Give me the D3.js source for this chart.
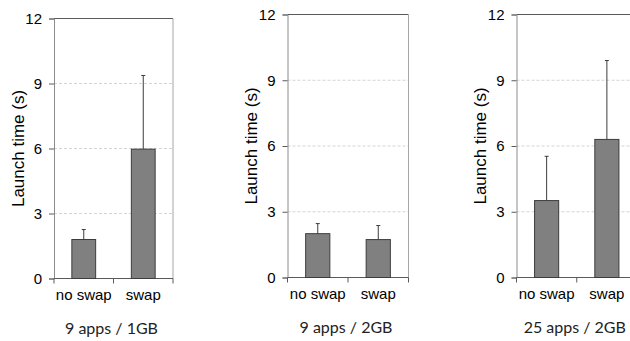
<!DOCTYPE html>
<html>
<head>
<meta charset="utf-8">
<script src="https://cdn.jsdelivr.net/npm/d3@7"></script>
<style>
  body { margin: 0; background: #fff; }
  svg { display: block; }
</style>
</head>
<body>
<div id="vis"></div>
<script>
// data
var categories = ["no swap", "swap"];
var panelTitles = ["9 apps / 1GB", "9 apps / 2GB", "25 apps / 2GB"];
var means = [[1.8, 5.97], [2.0, 1.73], [3.51, 6.3]];
var errTops = [[2.26, 9.37], [2.46, 2.37], [5.53, 9.9]];
var yTicks = [0, 3, 6, 9, 12];
var yLabel = "Launch time (s)";

const WIDTH = 630;
const HEIGHT = 341;
// plot boxes: left, right, top, bottom
const PANELS = [
    {x0: 54, x1: 173, y0: 18.5, y1: 278.5},
    {x0: 287.5, x1: 408.5, y0: 14.5, y1: 277.5},
    {x0: 516.5, x1: 637, y0: 14.5, y1: 277.5}
];

var svg = d3.select("#vis")
    .append("svg")
    .attr("width", WIDTH)
    .attr("height", HEIGHT);

function renderPanel(p, idx) {
    var g = svg.append("g");

    var x = d3.scaleBand()
        .domain(categories)
        .range([p.x0, p.x1])
        .padding(0);
    var y = d3.scaleLinear()
        .domain([0, 12])
        .range([p.y1, p.y0]);

    // dashed gridlines
    g.selectAll("line.grid")
        .data(yTicks.filter(function (d) { return d > 0 && d < 12; }))
        .enter()
        .append("line")
        .attr("x1", p.x0)
        .attr("x2", p.x1)
        .attr("y1", function (d) { return y(d); })
        .attr("y2", function (d) { return y(d); })
        .attr("stroke", "#d4d4d4")
        .attr("stroke-dasharray", "3,2");

    // top and right border
    g.append("line")
        .attr("x1", p.x0).attr("x2", p.x1)
        .attr("y1", p.y0).attr("y2", p.y0)
        .attr("stroke", "#5a5a5a");
    g.append("line")
        .attr("x1", p.x1).attr("x2", p.x1)
        .attr("y1", p.y0).attr("y2", p.y1)
        .attr("stroke", "#a6a6a6");

    // y axis
    var yAxis = g.append("g")
        .attr("transform", "translate(" + p.x0 + ",0)")
        .call(d3.axisLeft(y).tickValues(yTicks).tickSize(5).tickPadding(7));
    yAxis.select(".domain").attr("stroke", "#8c8c8c");
    yAxis.selectAll(".tick line").attr("stroke", "#5a5a5a");
    yAxis.selectAll("text")
        .attr("font-family", "'Liberation Sans', Arial, sans-serif")
        .attr("font-size", "15px")
        .attr("fill", "#000");

    // x axis: ticks at band boundaries
    g.append("line")
        .attr("x1", p.x0).attr("x2", p.x1)
        .attr("y1", p.y1).attr("y2", p.y1)
        .attr("stroke", "#5a5a5a");
    var bounds = categories.map(function (c) { return x(c); }).concat([p.x1]);
    g.selectAll("line.xtick")
        .data(bounds)
        .enter()
        .append("line")
        .attr("x1", function (d) { return d; })
        .attr("x2", function (d) { return d; })
        .attr("y1", p.y1)
        .attr("y2", p.y1 + 5)
        .attr("stroke", "#5a5a5a");
    g.selectAll("text.cat")
        .data(categories)
        .enter()
        .append("text")
        .attr("x", function (d) { return x(d) + x.bandwidth() / 2; })
        .attr("y", p.y1 + 21)
        .attr("text-anchor", "middle")
        .attr("font-family", "'Liberation Sans', Arial, sans-serif")
        .attr("font-size", "15px")
        .text(function (d) { return d; });

    // bars
    var bw = x.bandwidth() * 0.4;
    var rows = categories.map(function (c, i) {
        return {cat: c, v: means[idx][i], e: errTops[idx][i]};
    });
    g.selectAll("rect.bar")
        .data(rows)
        .enter()
        .append("rect")
        .attr("x", function (d) { return x(d.cat) + (x.bandwidth() - bw) / 2; })
        .attr("y", function (d) { return y(d.v); })
        .attr("width", bw)
        .attr("height", function (d) { return y(0) - y(d.v); })
        .attr("fill", "#808080")
        .attr("stroke", "#3c3c3c");

    // error bars (upper only)
    var eb = g.selectAll("g.err")
        .data(rows)
        .enter()
        .append("g");
    eb.append("line")
        .attr("x1", function (d) { return x(d.cat) + x.bandwidth() / 2; })
        .attr("x2", function (d) { return x(d.cat) + x.bandwidth() / 2; })
        .attr("y1", function (d) { return y(d.v); })
        .attr("y2", function (d) { return y(d.e); })
        .attr("stroke", "#3c3c3c");
    eb.append("line")
        .attr("x1", function (d) { return x(d.cat) + x.bandwidth() / 2 - 2; })
        .attr("x2", function (d) { return x(d.cat) + x.bandwidth() / 2 + 2; })
        .attr("y1", function (d) { return y(d.e); })
        .attr("y2", function (d) { return y(d.e); })
        .attr("stroke", "#3c3c3c");

    // y label
    g.append("text")
        .attr("transform", "translate(" + (p.x0 - 36) + "," + ((p.y0 + p.y1) / 2) + ") rotate(-90)")
        .attr("text-anchor", "middle")
        .attr("dy", "0.35em")
        .attr("font-family", "'Liberation Sans', Arial, sans-serif")
        .attr("font-size", "17px")
        .text(yLabel);

    // panel title
    g.append("text")
        .attr("x", (p.x0 + Math.min(p.x1, 637)) / 2 - 2)
        .attr("y", p.y1 + 55)
        .attr("text-anchor", "middle")
        .attr("font-family", "Lato, 'Open Sans', sans-serif")
        .attr("font-size", "16px")
        .attr("fill", "#222")
        .text(panelTitles[idx]);
}

PANELS.forEach(renderPanel);
</script>
</body>
</html>
